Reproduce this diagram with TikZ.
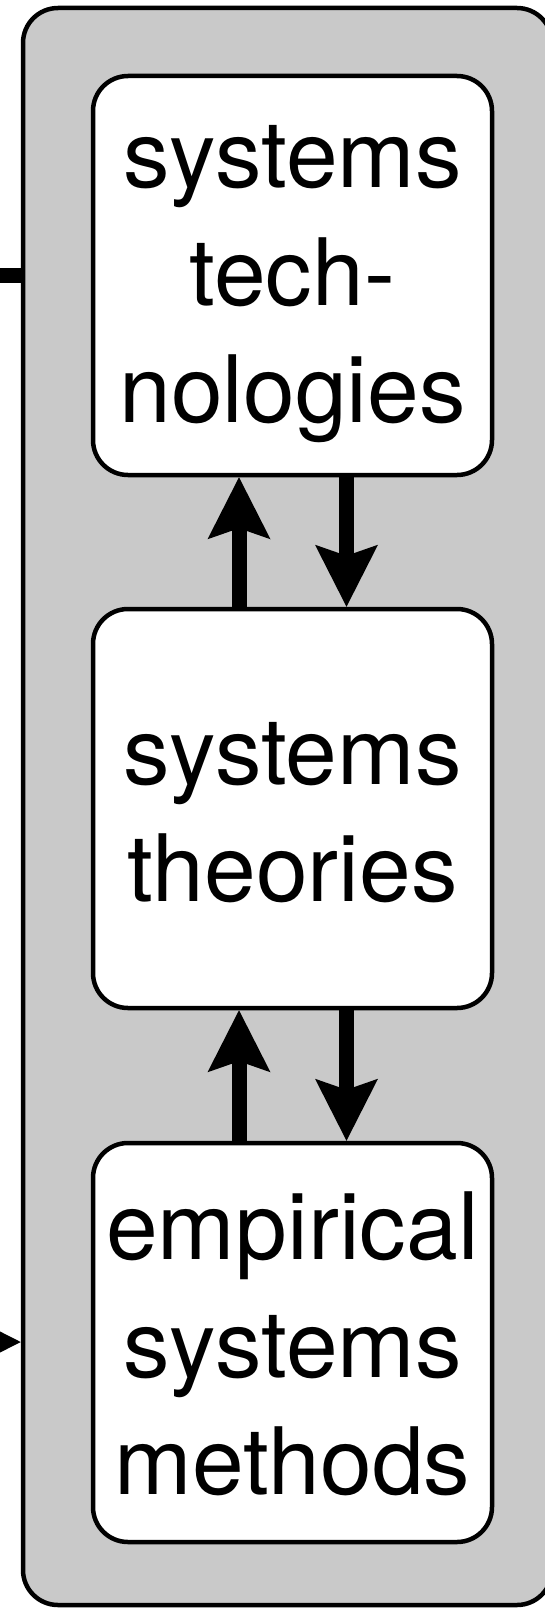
\documentclass[tikz,border=0pt]{standalone}
\usepackage{fontspec}
\setmainfont{TeX Gyre Heros}
\usetikzlibrary{arrows.meta,calc}
\definecolor{panelgrey}{RGB}{201,201,201}
\newcommand\tsx{\rule{0pt}{80pt}}
\newcommand\bsx{\rule[-11pt]{0pt}{11pt}}
\begin{document}
\begin{tikzpicture}[x=1pt,y=-1pt,
  outerbox/.style={draw, fill=panelgrey, line width=4.5pt, rounded corners=35pt, inner sep=0pt},
  stepbox/.style={draw, fill=white, line width=4.5pt, rounded corners=35pt, inner sep=0pt,
    minimum width=399pt, minimum height=399pt, align=center,
    font=\fontsize{93pt}{117.5pt}\selectfont},
  conn/.style={line width=15pt, -{Stealth[length=62pt, width=63pt, inset=11pt, line width=0pt]}},
  stub/.style={line width=15pt}
]
\useasboundingbox (0,0) rectangle (545,1608);
\node[outerbox, minimum width=529pt, minimum height=1597pt] (outer) at (287.5,806.5) {};
\node[stepbox] (b1) at (292.5,275.5) {\tsx systems\\tech-\\nologies\bsx};
\node[stepbox] (b2) at (292.5,808.5) {\tsx systems\\theories\bsx};
\node[stepbox] (b3) at (292.5,1342.5) {\tsx empirical\\systems\\methods\bsx};
% connectors between boxes
\draw[conn] ($(b2.north)+(-53.5,0)$) -- ($(b1.south)+(-53.5,0)$);
\draw[conn] ($(b1.south)+(54,0)$) -- ($(b2.north)+(54,0)$);
\draw[conn] ($(b3.north)+(-53.5,0)$) -- ($(b2.south)+(-53.5,0)$);
\draw[conn] ($(b2.south)+(54,0)$) -- ($(b3.north)+(54,0)$);
% external connectors
\coordinate (lout) at (-20,275);
\draw[stub] (lout) -- (lout -| outer.west);
\coordinate (lin) at (-120,1342);
\draw[conn] (lin) -- (lin -| outer.west);
\end{tikzpicture}
\end{document}
